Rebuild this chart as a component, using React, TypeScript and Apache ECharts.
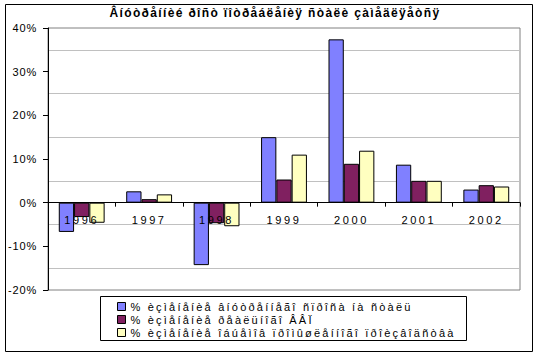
import React, { useEffect, useRef } from "react";
import * as echarts from "echarts";

const titleText = "Âíóòðåííèé ðîñò ïîòðåáëåíèÿ ñòàëè çàìåäëÿåòñÿ";
const categories = ["1996", "1997", "1998", "1999", "2000", "2001", "2002"];
const seriesNames = [
  "% èçìåíåíèå âíóòðåííåãî ñïðîñà íà ñòàëü",
  "% èçìåíåíèå ðåàëüíîãî ÂÂÏ",
  "% èçìåíåíèå îáúåìîâ ïðîìûøëåííîãî ïðîèçâîäñòâà",
];
const steelDemand = [-6.7, 2.6, -14.3, 15.0, 37.4, 8.7, 3.0];
const realGdp = [-3.3, 0.8, -4.7, 5.3, 8.9, 5.0, 4.0];
const industrialOutput = [-4.6, 1.9, -5.4, 11.0, 11.9, 5.0, 3.7];
const colors = ["#8080ff", "#802060", "#ffffc0"];

const FONT = "'Liberation Sans', Arial, sans-serif";
const Y_MIN = -20;
const Y_MAX = 40;
const GRID_TOP = 28;
const GRID_BOTTOM = 66;
const H = 356;

export default function App() {
  const ref = useRef<HTMLDivElement>(null);
  useEffect(() => {
    if (!ref.current) return;
    const chart = echarts.init(ref.current, undefined, { renderer: "svg" });
    const values = [steelDemand, realGdp, industrialOutput];
    const gridH = H - GRID_TOP - GRID_BOTTOM;
    const zeroOffset = -(gridH * (0 - Y_MIN)) / (Y_MAX - Y_MIN);
    chart.setOption({
      animation: false,
      backgroundColor: "#ffffff",
      textStyle: { fontFamily: FONT },
      grid: {
        left: 48,
        right: 19,
        top: GRID_TOP,
        bottom: GRID_BOTTOM,
        show: true,
        borderColor: "#808080",
        borderWidth: 1,
        backgroundColor: "#ffffff",
      },
      xAxis: {
        type: "category",
        data: categories,
        position: "bottom",
        offset: zeroOffset,
        axisLine: { onZero: false, lineStyle: { color: "#000", width: 1 } },
        axisTick: { show: true, length: 4, lineStyle: { color: "#000" } },
        axisLabel: { color: "#000", fontSize: 11.03, margin: 12, fontFamily: FONT },
        splitLine: { show: false },
        z: 5,
      },
      yAxis: {
        type: "value",
        min: Y_MIN,
        max: Y_MAX,
        interval: 10,
        axisLine: { show: true, lineStyle: { color: "#000", width: 1 } },
        axisTick: { show: true, length: 5, lineStyle: { color: "#000" } },
        axisLabel: {
          color: "#000",
          fontSize: 11.02,
          margin: 11,
          fontFamily: FONT,
          formatter: (v: number) => `${v}%`,
        },
        splitLine: { show: false },
        minorTick: { show: false, splitNumber: 2 },
        minorSplitLine: { show: true, lineStyle: { color: "#c0c0c0", width: 1 } },
      },
      legend: {
        orient: "vertical",
        left: 117,
        top: 300,
        padding: 0,
        itemWidth: 8,
        itemHeight: 8,
        itemGap: 0,
        z: 10,
        textStyle: { fontSize: 11.04, lineHeight: 13, color: "#000", fontFamily: FONT },
        data: seriesNames.map((n, i) => ({
          name: n,
          icon: "rect",
          itemStyle: { color: colors[i], borderColor: "#000", borderWidth: 1 },
        })),
      },
      graphic: [
        {
          type: "rect",
          z: 1,
          shape: { x: 5.5, y: 4.5, width: 527, height: 347 },
          style: { fill: "none", stroke: "#000", lineWidth: 1 },
          silent: true,
        },
        {
          type: "rect",
          z: 2,
          shape: { x: 100.5, y: 296.5, width: 366, height: 44 },
          style: { fill: "#fff", stroke: "#000", lineWidth: 1 },
          silent: true,
        },
        {
          type: "text",
          z: 3,
          x: 275,
          y: 13,
          style: {
            text: titleText,
            fill: "#000",
            font: `bold 12.01px ${FONT}`,
            textAlign: "center",
            textVerticalAlign: "middle",
          },
        },
      ],
      series: seriesNames.map((n, i) => ({
        name: n,
        type: "bar",
        data: values[i],
        barGap: "0%",
        barCategoryGap: "32%",
        itemStyle: { color: colors[i], borderColor: "#000", borderWidth: 1 },
      })),
    });
    return () => chart.dispose();
  }, []);
  const css = `
#chartbox text[style*="12.01px"]{letter-spacing:1.35px}
#chartbox text[style*="11.02px"]{letter-spacing:0.8px}
#chartbox text[style*="11.03px"]{letter-spacing:2.6px}
#chartbox text[style*="11.04px"]{letter-spacing:2.2px}
`;
  return (
    <>
      <style>{css}</style>
      <div
        id="chartbox"
        ref={ref}
        style={{ position: "fixed", left: 0, top: 0, width: 539, height: H }}
      />
    </>
  );
}
